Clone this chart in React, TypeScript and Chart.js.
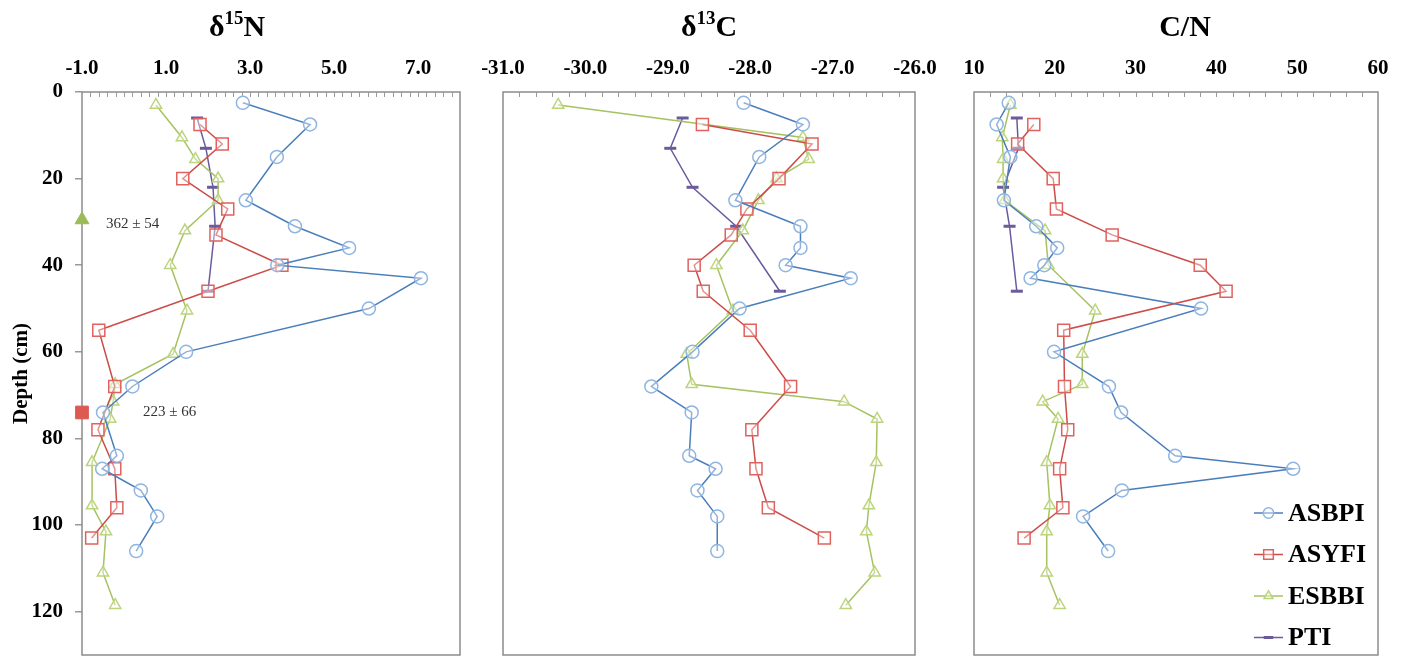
import React, { useEffect, useRef } from 'react';
import { Chart, registerables } from 'chart.js';
import { drawPoint } from 'chart.js/helpers';

Chart.register(...registerables);

const FONT = '"Liberation Serif", "Times New Roman", serif';

// ---------------- data ----------------
const SERIES_NAMES = ['ASBPI', 'ASYFI', 'ESBBI', 'PTI'];

const ASBPI_DEPTH = [2.5, 7.5, 15, 25, 31, 36, 40, 43, 50, 60, 68, 74, 84, 87, 92, 98, 106];
const ASBPI_D15N = [2.83, 4.43, 3.64, 2.9, 4.07, 5.36, 3.65, 7.07, 5.83, 1.48, 0.2, -0.5, -0.17, -0.52, 0.4, 0.79, 0.29];
const ASBPI_D13C = [-28.08, -27.36, -27.89, -28.18, -27.39, -27.39, -27.57, -26.78, -28.13, -28.7, -29.2, -28.71, -28.74, -28.42, -28.64, -28.4, -28.4];
const ASBPI_CN = [14.3, 12.8, 14.5, 13.7, 17.7, 20.3, 18.7, 17.0, 38.1, 19.9, 26.7, 28.2, 34.9, 49.5, 28.3, 23.5, 26.6];

const ASYFI_DEPTH = [7.5, 12, 20, 27, 33, 40, 46, 55, 68, 78, 87, 96, 103];
const ASYFI_D15N = [1.81, 2.34, 1.4, 2.47, 2.19, 3.76, 2.0, -0.6, -0.22, -0.62, -0.22, -0.17, -0.77];
const ASYFI_D13C = [-28.58, -27.25, -27.65, -28.04, -28.23, -28.68, -28.57, -28.0, -27.51, -27.98, -27.93, -27.78, -27.1];
const ASYFI_CN = [17.4, 15.4, 19.8, 20.2, 27.1, 38.0, 41.2, 21.1, 21.2, 21.6, 20.6, 21.0, 16.2];

const ESBBI_DEPTH = [3, 10.5, 15.5, 20, 25, 32, 40, 50.5, 60.5, 67.5, 71.5, 75.5, 85.5, 95.5, 101.5, 111, 118.5];
const ESBBI_D15N = [0.76, 1.38, 1.7, 2.24, 2.24, 1.45, 1.1, 1.5, 1.17, -0.21, -0.26, -0.33, -0.76, -0.76, -0.43, -0.5, -0.21];
const ESBBI_D13C = [-30.33, -27.36, -27.29, -27.68, -27.9, -28.09, -28.41, -28.21, -28.77, -28.71, -26.86, -26.46, -26.47, -26.56, -26.59, -26.49, -26.84];
const ESBBI_CN = [14.5, 13.5, 13.6, 13.6, 13.8, 18.8, 19.2, 25.0, 23.4, 23.4, 18.5, 20.4, 19.0, 19.4, 19.0, 19.0, 20.6];

const PTI_DEPTH = [6, 13, 22, 31, 46];
const PTI_D15N = [1.74, 1.95, 2.12, 2.17, 2.0];
const PTI_D13C = [-28.82, -28.97, -28.7, -28.17, -27.64];
const PTI_CN = [15.3, 15.5, 13.6, 14.4, 15.3];

// age annotations on the δ15N panel
const AGE_DEPTHS = [29.5, 74];
const AGE_MARK_X = [-1, -1];
const AGE_TEXT = ['362 ± 54', '223 ± 66'];
const AGE_TEXT_X = [-0.43, 0.45];
const AGE_TEXT_DEPTH = [30.5, 74];

// axes
const DEPTH_TICKS = [0, 20, 40, 60, 80, 100, 120];
const DEPTH_MIN = 0;
const DEPTH_MAX = 130;
const D15N_TICKS = [-1, 1, 3, 5, 7];
const D13C_TICKS = [-31, -30, -29, -28, -27, -26];
const CN_TICKS = [10, 20, 30, 40, 50, 60];

// ---------------- styles ----------------
const DEPTHS = [ASBPI_DEPTH, ASYFI_DEPTH, ESBBI_DEPTH, PTI_DEPTH];

const STYLES = [
  { line: '#4a7ebb', border: '#8fb5e2', fill: 'rgba(255,255,255,0.4)', style: 'circle', r: 6.5, bw: 1.5 },
  { line: '#cc4c48', border: '#e0625e', fill: 'rgba(255,255,255,0.4)', style: 'rect', r: 8.5, bw: 1.5 },
  { line: '#a6c262', border: '#bcd47c', fill: 'rgba(255,255,255,0.4)', style: 'triangle', r: 6.5, bw: 1.5 },
  { line: '#6b5a9c', border: '#6b5a9c', fill: '#6b5a9c', style: 'line', r: 6, bw: 3 },
];

type Spec = {
  values: number[][];
  min: number;
  max: number;
  ticks: number[];
  minor: number;
  fmt: (v: number) => string;
  title: string[];
  titleX: number;
  padLeft: number;
  padRight: number;
  showY: boolean;
  legend: boolean;
  ages: boolean;
};

function zeroPad(s: any) {
  s.paddingTop = 0;
  s.paddingBottom = 0;
  s.paddingLeft = 0;
  s.paddingRight = 0;
}

function decoPlugin(spec: Spec) {
  return {
    id: 'deco',
    beforeDatasetsDraw(chart: any) {
      const { ctx, chartArea } = chart;
      const xs = chart.scales.x;
      ctx.save();
      // frame
      ctx.strokeStyle = '#8c8c8c';
      ctx.lineWidth = 1.5;
      ctx.strokeRect(chartArea.left, chartArea.top, chartArea.right - chartArea.left, chartArea.bottom - chartArea.top);
      // minor ticks on top axis (inside)
      ctx.lineWidth = 1;
      ctx.strokeStyle = '#9a9a9a';
      const n = Math.round((spec.max - spec.min) / spec.minor);
      for (let k = 1; k < n; k++) {
        const v = spec.min + k * spec.minor;
        const px = Math.round(xs.getPixelForValue(v)) + 0.5;
        ctx.beginPath();
        ctx.moveTo(px, chartArea.top);
        ctx.lineTo(px, chartArea.top + 5);
        ctx.stroke();
      }
      ctx.restore();
    },
    afterDraw(chart: any) {
      const { ctx, chartArea } = chart;
      const xs = chart.scales.x;
      const ys = chart.scales.y;
      ctx.save();
      // title with superscript
      const big = `bold 30px ${FONT}`;
      const small = `bold 19px ${FONT}`;
      ctx.font = big;
      const w0 = ctx.measureText(spec.title[0]).width;
      const w2 = ctx.measureText(spec.title[2]).width;
      ctx.font = small;
      const w1 = ctx.measureText(spec.title[1]).width;
      let x = spec.titleX - (w0 + w1 + w2) / 2;
      const base = 36;
      ctx.fillStyle = '#000';
      ctx.textBaseline = 'alphabetic';
      ctx.textAlign = 'left';
      ctx.font = big;
      ctx.fillText(spec.title[0], x, base);
      x += w0;
      ctx.font = small;
      ctx.fillText(spec.title[1], x, base - 12);
      x += w1;
      ctx.font = big;
      ctx.fillText(spec.title[2], x, base);

      if (spec.ages) {
        ctx.font = `15px ${FONT}`;
        ctx.fillStyle = '#333';
        ctx.textBaseline = 'middle';
        AGE_TEXT.forEach((t, i) => {
          ctx.fillText(t, xs.getPixelForValue(AGE_TEXT_X[i]), ys.getPixelForValue(AGE_TEXT_DEPTH[i]));
        });
      }

      if (spec.legend) {
        SERIES_NAMES.forEach((name, i) => {
          const st = STYLES[i];
          const y = chartArea.bottom - 142 + i * 41.5;
          const x0 = chartArea.right - 124;
          const x1 = chartArea.right - 95;
          ctx.strokeStyle = st.line;
          ctx.lineWidth = 1.5;
          ctx.beginPath();
          ctx.moveTo(x0, y);
          ctx.lineTo(x1, y);
          ctx.stroke();
          ctx.strokeStyle = st.border;
          ctx.fillStyle = st.fill;
          ctx.lineWidth = st.bw;
          drawPoint(ctx, { pointStyle: st.style, radius: st.r * 0.8, rotation: 0, borderWidth: st.bw } as any, (x0 + x1) / 2, y);
          ctx.fillStyle = '#000';
          ctx.font = `bold 26px ${FONT}`;
          ctx.textBaseline = 'middle';
          ctx.textAlign = 'left';
          ctx.fillText(name, chartArea.right - 90, y + 1);
        });
      }
      ctx.restore();
    },
  };
}

function buildConfig(spec: Spec): any {
  const datasets: any[] = DEPTHS.map((depth, i) => {
    const st = STYLES[i];
    return {
      label: SERIES_NAMES[i],
      data: depth.map((d, j) => ({ x: spec.values[i][j], y: d })),
      showLine: true,
      borderColor: st.line,
      borderWidth: 1.5,
      pointStyle: st.style,
      pointRadius: st.r,
      pointBorderColor: st.border,
      pointBackgroundColor: st.fill,
      pointBorderWidth: st.bw,
      clip: false,
    };
  });
  if (spec.ages) {
    datasets.push({
      label: 'age-ESBBI',
      data: [{ x: AGE_MARK_X[0], y: AGE_DEPTHS[0] }],
      showLine: false,
      pointStyle: 'triangle',
      pointRadius: 8,
      pointBackgroundColor: '#9bbb59',
      pointBorderColor: '#9bbb59',
      pointBorderWidth: 1,
      clip: false,
    });
    datasets.push({
      label: 'age-ASYFI',
      data: [{ x: AGE_MARK_X[1], y: AGE_DEPTHS[1] }],
      showLine: false,
      pointStyle: 'rect',
      pointRadius: 9,
      pointBackgroundColor: '#dc5a52',
      pointBorderColor: '#dc5a52',
      pointBorderWidth: 1,
      clip: false,
    });
  }
  return {
    type: 'scatter',
    data: { datasets },
    options: {
      responsive: false,
      animation: false,
      events: [],
      layout: { autoPadding: false, padding: { left: spec.padLeft, right: spec.padRight, top: 0, bottom: 2 } },
      plugins: { legend: { display: false }, tooltip: { enabled: false }, title: { display: false } },
      scales: {
        x: {
          type: 'linear',
          position: 'top',
          min: spec.min,
          max: spec.max,
          afterBuildTicks: (s: any) => {
            s.ticks = spec.ticks.map((v) => ({ value: v }));
          },
          afterFit: (s: any) => {
            s.height = 92;
            zeroPad(s);
          },
          ticks: {
            autoSkip: false,
            maxRotation: 0,
            padding: 11,
            color: '#000',
            font: { family: FONT, size: 21, weight: 'bold' },
            callback: (v: any) => spec.fmt(Number(v)),
          },
          grid: { display: false, drawTicks: false },
          border: { display: false },
        },
        y: {
          type: 'linear',
          reverse: true,
          min: DEPTH_MIN,
          max: DEPTH_MAX,
          display: spec.showY,
          afterBuildTicks: (s: any) => {
            s.ticks = DEPTH_TICKS.map((v) => ({ value: v }));
          },
          afterFit: (s: any) => {
            if (spec.showY) s.width = 82;
            zeroPad(s);
          },
          ticks: {
            padding: 12,
            color: '#000',
            font: { family: FONT, size: 21, weight: 'bold' },
          },
          grid: { drawOnChartArea: false, drawTicks: true, tickLength: 7, color: '#999', lineWidth: 1.5 },
          border: { display: false },
          title: {
            display: true,
            text: 'Depth (cm)',
            color: '#000',
            font: { family: FONT, size: 21, weight: 'bold' },
            padding: { top: 9, bottom: 0 },
          },
        },
      },
    },
    plugins: [decoPlugin(spec)],
  };
}

const SPECS: { left: number; width: number; spec: Spec }[] = [
  {
    left: 0,
    width: 480,
    spec: {
      values: [ASBPI_D15N, ASYFI_D15N, ESBBI_D15N, PTI_D15N],
      min: -1,
      max: 8,
      ticks: D15N_TICKS,
      minor: 0.2,
      fmt: (v) => v.toFixed(1),
      title: ['δ', '15', 'N'],
      titleX: 237,
      padLeft: 0,
      padRight: 20,
      showY: true,
      legend: false,
      ages: true,
    },
  },
  {
    left: 470,
    width: 480,
    spec: {
      values: [ASBPI_D13C, ASYFI_D13C, ESBBI_D13C, PTI_D13C],
      min: -31,
      max: -26,
      ticks: D13C_TICKS,
      minor: 0.2,
      fmt: (v) => v.toFixed(1),
      title: ['δ', '13', 'C'],
      titleX: 239,
      padLeft: 33,
      padRight: 35,
      showY: false,
      legend: false,
      ages: false,
    },
  },
  {
    left: 940,
    width: 462,
    spec: {
      values: [ASBPI_CN, ASYFI_CN, ESBBI_CN, PTI_CN],
      min: 10,
      max: 60,
      ticks: CN_TICKS,
      minor: 2,
      fmt: (v) => String(Math.round(v)),
      title: ['C/N', '', ''],
      titleX: 245,
      padLeft: 34,
      padRight: 24,
      showY: false,
      legend: true,
      ages: false,
    },
  },
];

function Panel({ left, width, spec }: { left: number; width: number; spec: Spec }) {
  const ref = useRef<HTMLCanvasElement>(null);
  useEffect(() => {
    const chart = new Chart(ref.current as HTMLCanvasElement, buildConfig(spec));
    return () => chart.destroy();
  }, []);
  return (
    <canvas
      ref={ref}
      width={width}
      height={657}
      style={{ position: 'absolute', left, top: 0, width, height: 657 }}
    />
  );
}

export default function App() {
  return (
    <div style={{ position: 'absolute', left: 0, top: 0, width: 1402, height: 657, background: '#fff', overflow: 'hidden' }}>
      {SPECS.map((p, i) => (
        <Panel key={i} left={p.left} width={p.width} spec={p.spec} />
      ))}
    </div>
  );
}
